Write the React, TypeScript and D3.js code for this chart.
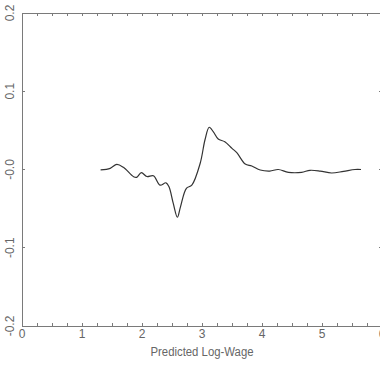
import React from "react";
import * as d3 from "d3";

const xValues = [1.31, 1.47, 1.58, 1.69, 1.86, 1.91, 1.99, 2.08, 2.19, 2.30, 2.40, 2.45, 2.52, 2.59, 2.64, 2.74, 2.83, 2.97, 3.05, 3.12, 3.19, 3.27, 3.38, 3.50, 3.58, 3.72, 3.83, 3.97, 4.13, 4.27, 4.44, 4.66, 4.80, 4.97, 5.16, 5.36, 5.55, 5.65];
const yValues = [-0.0006, 0.0015, 0.0066, 0.0028, -0.0092, -0.010, -0.004, -0.009, -0.008, -0.020, -0.017, -0.022, -0.043, -0.061, -0.048, -0.024, -0.020, 0.008, 0.038, 0.054, 0.048, 0.039, 0.0355, 0.027, 0.0215, 0.007, 0.0045, -0.0006, -0.002, 0.0, -0.0036, -0.0036, -0.001, -0.002, -0.0045, -0.0023, 0.0, 0.0];

const xMajorTicks = [0, 1, 2, 3, 4, 5, 6];
const xTickLabels = ["0", "1", "2", "3", "4", "5", "6"];
const yMajorTicks = [0.2, 0.1, 0.0, -0.1, -0.2];
const yTickLabels = ["0.2", "0.1", "-0.0", "-0.1", "-0.2"];
const xTitle = "Predicted Log-Wage";

const W = 380;
const H = 371;
const left = 22;
const right = 382;
const top = 13;
const bottom = 326;

export default function App() {
  const x = d3.scaleLinear().domain([0, 6]).range([left, right]);
  const y = d3.scaleLinear().domain([-0.2, 0.2]).range([bottom, top]);
  const minor = d3.range(0, 6.0001, 0.25);
  const pts = xValues.map((v, i) => [v, yValues[i]] as [number, number]);
  const line = d3
    .line<[number, number]>()
    .x((d) => x(d[0]))
    .y((d) => y(d[1]))
    .curve(d3.curveCatmullRom.alpha(0.5));
  const axisColor = "#7a7a7a";
  const textColor = "#666";
  const font = "'Liberation Sans', Arial, sans-serif";
  return (
    <svg
      width={W}
      height={H}
      style={{ position: "absolute", left: 0, top: 0, background: "#fff" }}
    >
      <rect x={0} y={0} width={W} height={H} fill="#fff" />
      <g stroke={axisColor} strokeWidth={1} fill="none" shapeRendering="crispEdges">
        <line x1={left} y1={top} x2={right} y2={top} />
        <line x1={left} y1={bottom} x2={right} y2={bottom} />
        <line x1={left} y1={top} x2={left} y2={bottom} />
        <line x1={right} y1={top} x2={right} y2={bottom} />
        {minor.map((t) => (
          <g key={"xt" + t}>
            <line x1={x(t)} x2={x(t)} y1={bottom} y2={bottom - 3} />
            <line x1={x(t)} x2={x(t)} y1={top} y2={top + 3} />
          </g>
        ))}
        {yMajorTicks.map((t) => (
          <g key={"yt" + t}>
            <line x1={left} x2={left + 3} y1={y(t)} y2={y(t)} />
            <line x1={right} x2={right - 3} y1={y(t)} y2={y(t)} />
          </g>
        ))}
      </g>
      <path d={line(pts) || ""} fill="none" stroke="#333" strokeWidth={1.2} />
      <g fill={textColor} fontFamily={font} fontSize={12}>
        {xMajorTicks.map((t, i) => (
          <text key={"xl" + t} x={x(t)} y={338} textAnchor="middle">
            {xTickLabels[i]}
          </text>
        ))}
        {yMajorTicks.map((t, i) => (
          <text
            key={"yl" + t}
            transform={`translate(14,${y(t)}) rotate(-90)`}
            textAnchor="middle"
          >
            {yTickLabels[i]}
          </text>
        ))}
        <text
          x={x(3)}
          y={356}
          textAnchor="middle"
          textLength={103}
          lengthAdjust="spacingAndGlyphs"
        >
          {xTitle}
        </text>
      </g>
    </svg>
  );
}
